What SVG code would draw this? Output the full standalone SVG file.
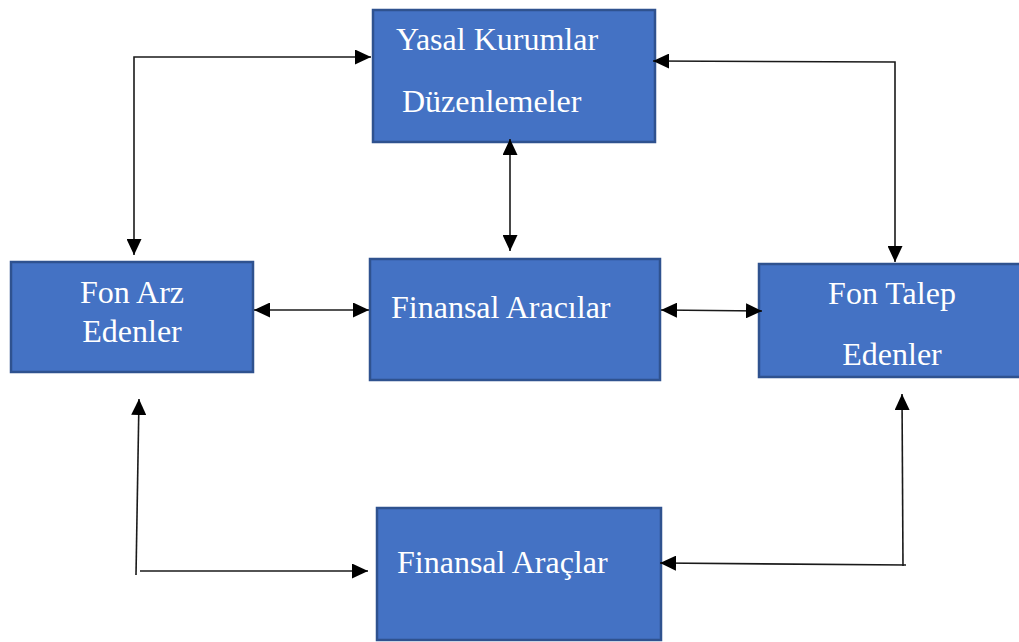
<svg xmlns="http://www.w3.org/2000/svg" width="1019" height="642" viewBox="0 0 1019 642">
  <defs>
    <style>
      .box { fill: #4472C4; stroke: #2F528F; stroke-width: 2.5; }
      .lbl { font-family: "Liberation Serif", "Times New Roman", serif; font-size: 32px; fill: #FFFFFF; }
      .c { text-anchor: middle; }
      .conn { fill: none; stroke: #1a1a1a; stroke-width: 1.6; }
    </style>
    <marker id="ah" viewBox="0 0 16 15" refX="16" refY="7.5" markerWidth="16" markerHeight="15" markerUnits="userSpaceOnUse" orient="auto-start-reverse">
      <path d="M0,0 L16,7.5 L0,15 z" fill="#000000"/>
    </marker>
  </defs>
  <rect width="1019" height="642" fill="#FFFFFF"/>

  <g id="yasal">
    <rect class="box" x="373" y="10" width="282" height="132"/>
    <text class="lbl" x="396" y="50">Yasal Kurumlar</text>
    <text class="lbl" x="402" y="112">Düzenlemeler</text>
  </g>
  <g id="fon-arz">
    <rect class="box" x="11" y="262" width="242" height="110"/>
    <text class="lbl c" x="132" y="303">Fon Arz</text>
    <text class="lbl c" x="132" y="342">Edenler</text>
  </g>
  <g id="aracilar">
    <rect class="box" x="370" y="259" width="290" height="121"/>
    <text class="lbl" x="391" y="318">Finansal Aracılar</text>
  </g>
  <g id="fon-talep">
    <rect class="box" x="759" y="264" width="262" height="113"/>
    <text class="lbl c" x="892" y="304">Fon Talep</text>
    <text class="lbl c" x="892" y="365">Edenler</text>
  </g>
  <g id="araclar">
    <rect class="box" x="377" y="508" width="284" height="132"/>
    <text class="lbl" x="397" y="573">Finansal Araçlar</text>
  </g>

  <g id="connectors">
    <path class="conn" d="M134,255 L134,57 L371,57" marker-start="url(#ah)" marker-end="url(#ah)"/>
    <path class="conn" d="M653,61 L895,62 L895,262" marker-start="url(#ah)" marker-end="url(#ah)"/>
    <path class="conn" d="M510,139 L510,251" marker-start="url(#ah)" marker-end="url(#ah)"/>
    <path class="conn" d="M254,310 L369,310" marker-start="url(#ah)" marker-end="url(#ah)"/>
    <path class="conn" d="M661,310 L762,311" marker-start="url(#ah)" marker-end="url(#ah)"/>
    <path class="conn" d="M136,575 L139,399" marker-end="url(#ah)"/>
    <path class="conn" d="M140,571 L368,571" marker-end="url(#ah)"/>
    <path class="conn" d="M903,566 L902,394" marker-end="url(#ah)"/>
    <path class="conn" d="M906,565 L660,563" marker-end="url(#ah)"/>
  </g>
</svg>
